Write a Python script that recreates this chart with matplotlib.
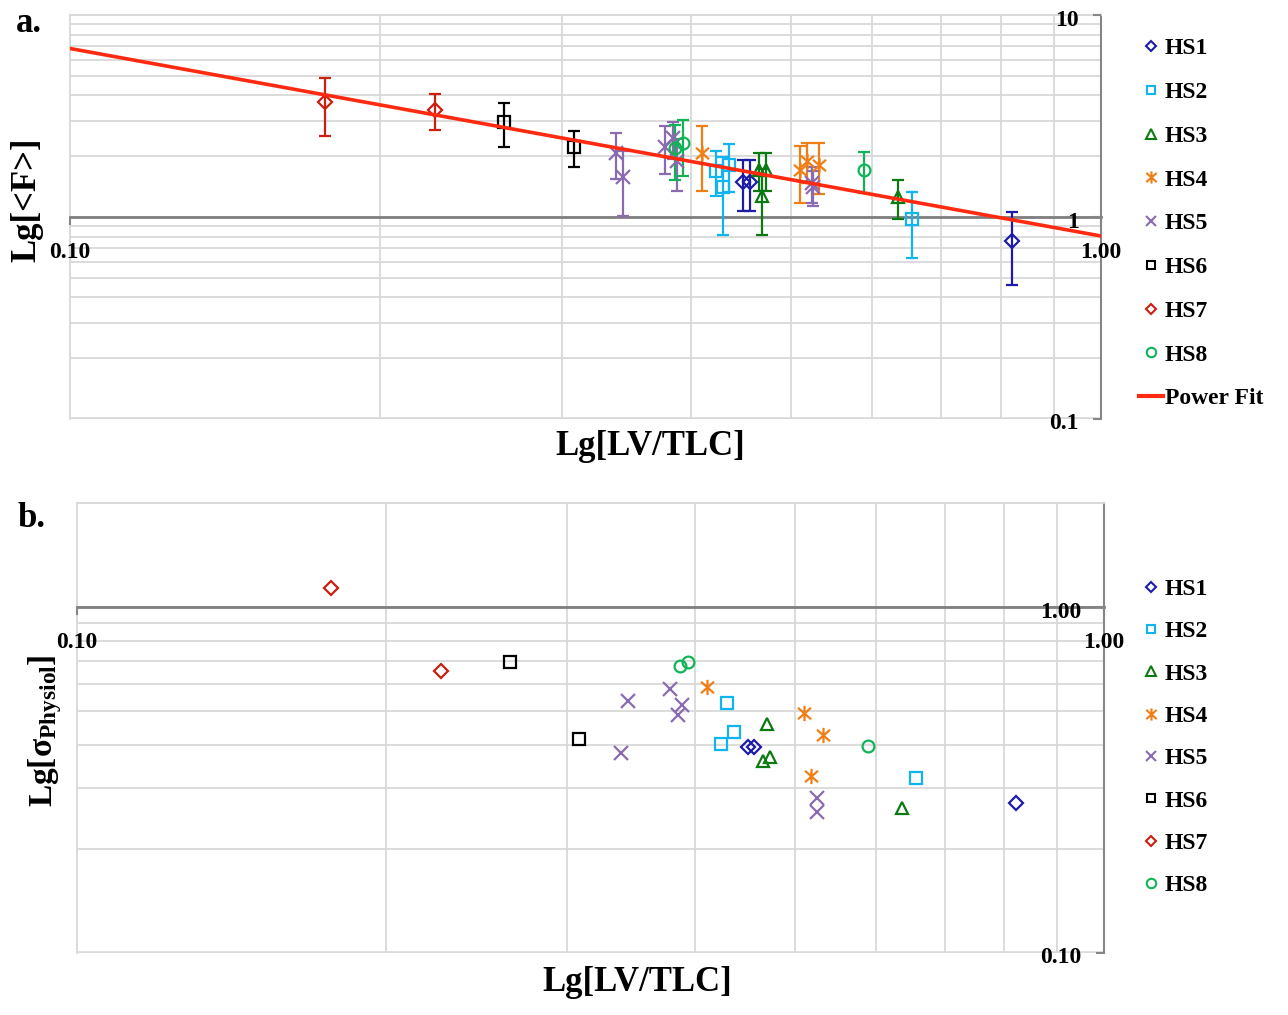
import numpy as np
import matplotlib
matplotlib.use('Agg')
import matplotlib.pyplot as plt
from matplotlib.lines import Line2D
from matplotlib.path import Path
from matplotlib.transforms import ScaledTranslation
from matplotlib.ticker import FixedLocator, FixedFormatter, NullLocator

plt.rcParams['font.family'] = 'Liberation Serif'
plt.rcParams['font.weight'] = 'bold'
plt.rcParams['mathtext.fontset'] = 'custom'
plt.rcParams['mathtext.rm'] = 'Liberation Serif:bold'
plt.rcParams['mathtext.bf'] = 'Liberation Serif:bold'
plt.rcParams['mathtext.it'] = 'Liberation Serif:bold:italic'

subjects = ['HS1', 'HS2', 'HS3', 'HS4', 'HS5', 'HS6', 'HS7', 'HS8']

# LV/TLC, mean force <F>, its error and sigma_physiol for every subject
hs1_lv = [0.450, 0.4567, 0.8204]
hs1_f = [1.485, 1.485, 0.763]
hs1_ferr = [0.42, 0.42, 0.30]
hs1_sigma = [0.395, 0.395, 0.271]

hs2_lv = [0.4236, 0.430, 0.4363, 0.6554]
hs2_f = [1.695, 1.403, 1.808, 0.974]
hs2_ferr = [0.42, 0.59, 0.48, 0.35]
hs2_sigma = [0.401, 0.527, 0.436, 0.321]

hs3_lv = [0.466, 0.4696, 0.473, 0.6353]
hs3_f = [1.709, 1.27, 1.709, 1.252]
hs3_ferr = [0.36, 0.455, 0.36, 0.28]
hs3_sigma = [0.359, 0.458, 0.369, 0.262]

hs4_lv = [0.4105, 0.511, 0.519, 0.533]
hs4_f = [2.08, 1.709, 1.893, 1.808]
hs4_ferr = [0.74, 0.53, 0.42, 0.51]
hs4_sigma = [0.588, 0.493, 0.325, 0.427]

hs5_lv = [0.3388, 0.3442, 0.378, 0.385, 0.388, 0.525, 0.526]
hs5_f = [2.067, 1.572, 2.23, 2.45, 1.89, 1.47, 1.41]
hs5_ferr = [0.53, 0.56, 0.60, 0.51, 0.54, 0.30, 0.28]
hs5_sigma = [0.379, 0.535, 0.579, 0.487, 0.521, 0.280, 0.256]

hs6_lv = [0.2639, 0.3083]
hs6_f = [2.953, 2.213]
hs6_ferr = [0.72, 0.45]
hs6_sigma = [0.692, 0.4155]

hs7_lv = [0.1769, 0.2261]
hs7_f = [3.70, 3.39]
hs7_ferr = [1.17, 0.68]
hs7_sigma = [1.133, 0.655]

hs8_lv = [0.3864, 0.3936, 0.589]
hs8_f = [2.19, 2.316, 1.709]
hs8_ferr = [0.67, 0.72, 0.40]
hs8_sigma = [0.677, 0.695, 0.397]

# power fit <F> = a * (LV/TLC)^b
fit_a = 0.805
fit_b = -0.929

lv_all = [hs1_lv, hs2_lv, hs3_lv, hs4_lv, hs5_lv, hs6_lv, hs7_lv, hs8_lv]
f_all = [hs1_f, hs2_f, hs3_f, hs4_f, hs5_f, hs6_f, hs7_f, hs8_f]
ferr_all = [hs1_ferr, hs2_ferr, hs3_ferr, hs4_ferr, hs5_ferr, hs6_ferr, hs7_ferr, hs8_ferr]
sigma_all = [hs1_sigma, hs2_sigma, hs3_sigma, hs4_sigma, hs5_sigma, hs6_sigma, hs7_sigma, hs8_sigma]

colors = ['#1C1CA8', '#10B4F0', '#0B7A12', '#F07E14', '#8A6BB0', '#000000', '#CC1F10', '#10B356']
fit_color = '#FF2A10'
grid_color = '#D9D9D9'
axis_color = '#868686'

# excel style star: an x with a vertical bar
star = Path([(0, -1), (0, 1), (-0.85, -0.75), (0.85, 0.75), (-0.85, 0.75), (0.85, -0.75)],
            [Path.MOVETO, Path.LINETO, Path.MOVETO, Path.LINETO, Path.MOVETO, Path.LINETO])
markers = ['D', 's', '^', star, 'x', 's', 'D', 'o']
sizes = [7, 8, 8.5, 11, 9.5, 8, 7, 8.5]


def log_grid(lo, hi):
    vals = []
    for e in range(int(np.floor(np.log10(lo))), int(np.ceil(np.log10(hi))) + 1):
        for m in range(1, 10):
            v = m * 10.0 ** e
            if lo - 1e-9 <= v <= hi + 1e-9:
                vals.append(v)
    return vals


def style_axes(ax, ymin, ymax, ytick_vals, ytick_text):
    ax.set_xscale('log')
    ax.set_yscale('log')
    ax.set_xlim(0.1, 1.0)
    ax.set_ylim(ymin, ymax)
    ax.xaxis.set_major_locator(FixedLocator([0.1, 1.0]))
    ax.xaxis.set_major_formatter(FixedFormatter(['0.10', '1.00']))
    ax.xaxis.set_minor_locator(NullLocator())
    ax.yaxis.set_major_locator(FixedLocator(ytick_vals))
    ax.yaxis.set_major_formatter(FixedFormatter(ytick_text))
    ax.yaxis.set_minor_locator(NullLocator())

    for v in log_grid(0.1, 1.0):
        ax.axvline(v, color=grid_color, lw=1.3, zorder=0)
    for v in log_grid(ymin, ymax):
        ax.axhline(v, color=grid_color, lw=1.3, zorder=0)

    # x axis crosses at 1, y axis sits on the right
    ax.spines['bottom'].set_position(('data', 1.0))
    ax.spines['bottom'].set_color('#7F7F7F')
    ax.spines['bottom'].set_linewidth(2)
    ax.spines['right'].set_color(axis_color)
    ax.spines['right'].set_linewidth(1.5)
    ax.spines['left'].set_color(grid_color)
    ax.spines['top'].set_color(grid_color)
    ax.spines['left'].set_linewidth(1.3)
    ax.spines['top'].set_linewidth(1.3)
    for sp in ax.spines.values():
        sp.set_zorder(1)
    ax.axhline(ymin, color=grid_color, lw=2.6, zorder=0)

    ax.tick_params(axis='x', which='major', direction='out', length=6, width=1.5,
                   color=axis_color, labelsize=17, pad=12)
    ax.tick_params(axis='y', which='major', left=False, right=True, labelleft=False,
                   labelright=True, direction='in', length=6, width=1.5,
                   color=axis_color, labelsize=17, pad=-16)
    shift = ScaledTranslation(0, -2.5 / 100, ax.figure.dpi_scale_trans)
    for lab in ax.get_yticklabels():
        lab.set_horizontalalignment('right')
        lab.set_transform(lab.get_transform() + shift)


def legend_handles():
    handles = []
    for c, m, s in zip(colors, markers, sizes):
        handles.append(Line2D([], [], ls='none', marker=m, mec=c, mfc='none', ms=s * 0.8, mew=1.5))
    return handles


fig = plt.figure(figsize=(12.88, 10.15), dpi=100)

# ---- a. mean force vs lung volume ----
ax_a = fig.add_axes([0.05396, 0.5872, 0.8009, 0.398])
style_axes(ax_a, 0.1, 10, [0.1, 1, 10], ['0.1', '1', '10'])

for i in range(len(subjects)):
    ax_a.errorbar(lv_all[i], f_all[i], yerr=ferr_all[i], fmt='none', ecolor=colors[i],
                  elinewidth=1.6, capsize=4.5, capthick=1.6, zorder=3)
    ax_a.plot(lv_all[i], f_all[i], ls='none', marker=markers[i], ms=sizes[i], mec=colors[i],
              mfc='none', mew=1.6, zorder=4)

xs = np.logspace(-1, 0, 60)
ax_a.plot(xs, fit_a * xs ** fit_b, color=fit_color, lw=2.6, zorder=5)

handles = legend_handles() + [Line2D([], [], color=fit_color, lw=3)]
ax_a.legend(handles, subjects + ['Power Fit'], loc='upper left', bbox_to_anchor=(0.8843, 0.9626),
            bbox_transform=fig.transFigure, frameon=False, fontsize=17, handlelength=1.0,
            handletextpad=0.1, labelspacing=0.94, borderpad=0, borderaxespad=0)

# ---- b. physiological sigma vs lung volume ----
ax_b = fig.add_axes([0.05955, 0.0611, 0.7976, 0.4433])
style_axes(ax_b, 0.1, 2, [0.1, 1], ['0.10', '1.00'])

for i in range(len(subjects)):
    ax_b.plot(lv_all[i], sigma_all[i], ls='none', marker=markers[i], ms=sizes[i], mec=colors[i],
              mfc='none', mew=1.6, zorder=4)

ax_b.legend(legend_handles(), subjects, loc='upper left', bbox_to_anchor=(0.8843, 0.4301),
            bbox_transform=fig.transFigure, frameon=False, fontsize=17, handlelength=1.0,
            handletextpad=0.1, labelspacing=0.88, borderpad=0, borderaxespad=0)

# titles and panel letters
fig.text(16 / 1288, 1 - 32 / 1015, 'a.', fontsize=25, va='baseline')
fig.text(17 / 1288, 1 - 527 / 1015, 'b.', fontsize=25, va='baseline')
fig.text(650 / 1288, 1 - 455 / 1015, 'Lg[LV/TLC]', fontsize=25, ha='center', va='baseline')
fig.text(637 / 1288, 1 - 991 / 1015, 'Lg[LV/TLC]', fontsize=25, ha='center', va='baseline')
fig.text(27 / 1288, 1 - 200 / 1015, 'Lg[<F>]', fontsize=25, ha='center', va='center', rotation=90)
fig.text(45 / 1288, 1 - 731 / 1015, r'Lg[$\mathrm{\sigma}_{\mathrm{Physiol}}$]', fontsize=24,
         ha='center', va='center', rotation=90)

fig.savefig('out.png', dpi=100)
